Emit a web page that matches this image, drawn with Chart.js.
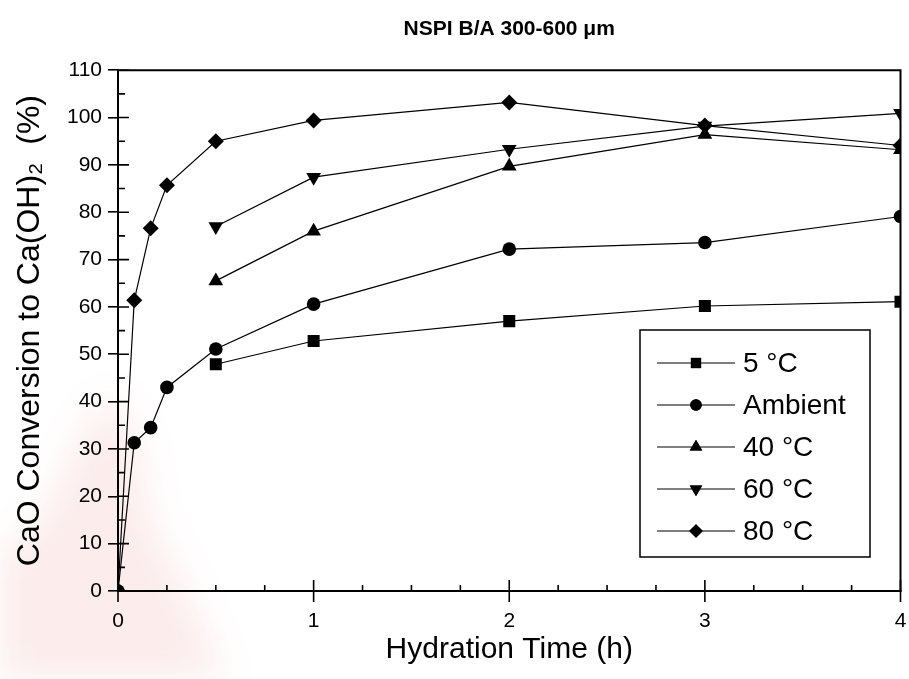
<!DOCTYPE html>
<html>
<head>
<meta charset="utf-8">
<script src="https://cdn.jsdelivr.net/npm/chart.js@4.4.1/dist/chart.umd.min.js"></script>
<style>
  html, body { margin: 0; padding: 0; background: #fff; }
  #wrap { width: 909px; height: 679px; position: relative; }
</style>
</head>
<body>
<div id="wrap"><canvas id="hydChart" width="909" height="679"></canvas></div>
<script>
// Hydration time (h)
const timesFine = [0, 0.083, 0.167, 0.25, 0.5, 1, 2, 3, 4];
const timesCoarse = [0.5, 1, 2, 3, 4];

// CaO conversion to Ca(OH)2 (%)
const conv5C = [47.9, 52.8, 57.0, 60.2, 61.1];
const convAmbient = [0, 31.3, 34.5, 43.0, 51.1, 60.6, 72.2, 73.6, 79.1];
const conv40C = [65.5, 76.0, 89.7, 96.4, 93.2];
const conv60C = [77.0, 87.4, 93.3, 98.2, 100.9];
const conv80C = [0, 61.4, 76.6, 85.7, 95.0, 99.4, 103.2, 98.3, 94.1];

const seriesLabels = ['5 °C', 'Ambient', '40 °C', '60 °C', '80 °C'];
const yTicks = [0, 10, 20, 30, 40, 50, 60, 70, 80, 90, 100, 110];
const xTicks = [0, 1, 2, 3, 4];

function toPoints(xs, ys) {
    return ys.map((v, i) => ({x: xs[i], y: v}));
}

function makeSet(label, xs, ys, style, radius, rotation) {
    return {
        label: label,
        data: toPoints(xs, ys),
        borderColor: '#000',
        backgroundColor: '#000',
        borderWidth: 1.2,
        pointStyle: style,
        pointRadius: radius,
        pointRotation: rotation || 0,
        pointBorderWidth: 0,
        pointBackgroundColor: '#000',
        tension: 0
    };
}

// faint reddish watermark behind the plot
const watermark = {
    id: 'watermark',
    beforeDraw(chart) {
        const c = chart.ctx;
        c.save();
        c.fillStyle = '#fff';
        c.fillRect(0, 0, chart.width, chart.height);
        c.filter = 'blur(18px)';
        c.fillStyle = 'rgba(225, 70, 70, 0.10)';
        c.beginPath();
        c.moveTo(0, 560);
        c.lineTo(40, 520);
        c.lineTo(85, 430);
        c.lineTo(110, 395);
        c.lineTo(135, 430);
        c.lineTo(150, 520);
        c.lineTo(190, 600);
        c.lineTo(225, 679);
        c.lineTo(0, 679);
        c.closePath();
        c.fill();
        c.restore();
    }
};

// ticks crossing the axes, minor ticks, frame on top/right
const frameTicks = {
    id: 'frameTicks',
    afterDatasetsDraw(chart) {
        const c = chart.ctx;
        const a = chart.chartArea;
        const xs = chart.scales.x, ys = chart.scales.y;
        c.save();
        c.strokeStyle = '#000';
        c.lineWidth = 2;
        c.beginPath();
        c.moveTo(a.left, a.top);
        c.lineTo(a.right, a.top);
        c.lineTo(a.right, a.bottom);
        c.stroke();
        c.lineWidth = 1.6;
        c.beginPath();
        for (let v = 0; v <= 110; v += 5) {
            const py = ys.getPixelForValue(v);
            const len = v % 10 === 0 ? 11 : 7;
            c.moveTo(a.left, py);
            c.lineTo(a.left + len, py);
        }
        for (let v = 0; v <= 4; v += 0.25) {
            const px = xs.getPixelForValue(v);
            const major = v % 1 === 0;
            c.moveTo(px, major ? a.bottom + 11 : a.bottom);
            c.lineTo(px, a.bottom - (major ? 11 : 6));
        }
        c.stroke();
        c.restore();
    }
};

// legend box inside the plot
const boxLegend = {
    id: 'boxLegend',
    afterDraw(chart) {
        const c = chart.ctx;
        const left = 640, top = 330, w = 230, h = 227;
        c.save();
        c.strokeStyle = '#000';
        c.lineWidth = 1.5;
        c.strokeRect(left, top, w, h);
        c.font = '28px "Liberation Sans", Arial, sans-serif';
        c.textBaseline = 'middle';
        c.fillStyle = '#000';
        chart.data.datasets.forEach((ds, i) => {
            const y = 363 + i * 42;
            c.lineWidth = 1.2;
            c.beginPath();
            c.moveTo(657, y);
            c.lineTo(735, y);
            c.stroke();
            Chart.helpers.drawPoint(c, {
                pointStyle: ds.pointStyle,
                radius: ds.pointRadius * 0.85,
                rotation: ds.pointRotation,
                borderWidth: 0
            }, 696, y);
            c.fill();
            c.fillText(ds.label, 743, y + 1);
        });
        c.restore();
    }
};

const ctx = document.getElementById('hydChart').getContext('2d');
const hydChart = new Chart(ctx, {
    type: 'line',
    data: {
        datasets: [
            makeSet(seriesLabels[0], timesCoarse, conv5C, 'rect', 8.5),
            makeSet(seriesLabels[1], timesFine, convAmbient, 'circle', 6.8),
            makeSet(seriesLabels[2], timesCoarse, conv40C, 'triangle', 8.5),
            makeSet(seriesLabels[3], timesCoarse, conv60C, 'triangle', 8.5, 180),
            makeSet(seriesLabels[4], timesFine, conv80C, 'rectRot', 8)
        ]
    },
    options: {
        responsive: false,
        animation: false,
        devicePixelRatio: 1,
        layout: { padding: { left: 0, right: 0, top: 0, bottom: 0 } },
        plugins: {
            legend: { display: false },
            tooltip: { enabled: false },
            title: {
                display: true,
                fullSize: false,
                text: 'NSPI B/A 300-600 μm',
                color: '#000',
                font: { family: '"Liberation Sans", Arial', size: 21, weight: 'bold' },
                padding: { top: 17, bottom: 28 }
            }
        },
        scales: {
            x: {
                type: 'linear',
                min: 0,
                max: 4,
                afterBuildTicks(scale) { scale.ticks = xTicks.map(v => ({value: v})); },
                afterFit(scale) { scale.height = 88; },
                border: { display: true, color: '#000', width: 2 },
                grid: { drawOnChartArea: false, drawTicks: true, tickLength: 18, tickColor: 'rgba(0,0,0,0)', color: '#000', lineWidth: 1.6 },
                ticks: {
                    color: '#000',
                    padding: 0,
                    maxRotation: 0,
                    font: { family: '"Liberation Sans", Arial', size: 21 }
                },
                title: {
                    display: true,
                    text: 'Hydration Time (h)',
                    color: '#000',
                    font: { family: '"Liberation Sans", Arial', size: 30 },
                    padding: { top: 0, bottom: 11 }
                }
            },
            y: {
                min: 0,
                max: 110,
                afterBuildTicks(scale) { scale.ticks = yTicks.map(v => ({value: v})); },
                afterFit(scale) { scale.width = 118; },
                border: { display: true, color: '#000', width: 2 },
                grid: { drawOnChartArea: false, drawTicks: true, tickLength: 10, color: '#000', lineWidth: 1.6 },
                ticks: {
                    color: '#000',
                    padding: 6,
                    font: { family: '"Liberation Sans", Arial', size: 21 }
                },
                title: {
                    display: true,
                    text: 'CaO Conversion to Ca(OH)₂  (%)',
                    color: '#000',
                    font: { family: '"Liberation Sans", Arial', size: 32 },
                    padding: { top: 11, bottom: 0 }
                }
            }
        }
    },
    plugins: [watermark, frameTicks, boxLegend]
});
</script>
</body>
</html>
